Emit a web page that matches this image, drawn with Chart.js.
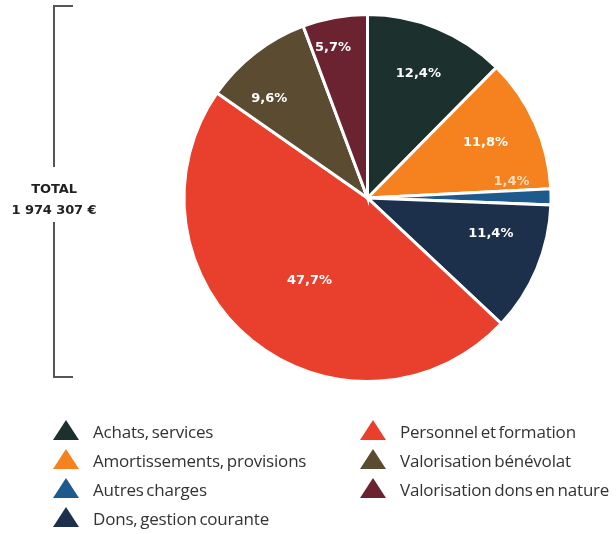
<!DOCTYPE html>
<html>
<head>
<meta charset="utf-8">
<script src="https://cdn.jsdelivr.net/npm/chart.js@4/dist/chart.umd.min.js"></script>
<style>
  html, body { margin: 0; padding: 0; background: #fff; }
  #wrap { position: relative; width: 616px; height: 534px; overflow: hidden; font-family: "Open Sans", Lato, sans-serif; }
  #c { position: absolute; left: 0; top: 0; }
  .br { position: absolute; border-left: 2px solid #555; }
  .brt { position: absolute; border-top: 2px solid #555; width: 20px; }
  #total { position: absolute; left: 0; width: 108px; top: 178px; text-align: center; font-family: "DejaVu Sans", sans-serif; font-weight: bold; font-size: 13px; line-height: 21px; color: #222; letter-spacing: -0.1px; }
  .leg { position: absolute; font-size: 17px; color: #333; line-height: 20px; white-space: nowrap; letter-spacing: -0.2px; word-spacing: -1.5px; }
  .tri { position: absolute; width: 0; height: 0; border-left: 13px solid transparent; border-right: 13px solid transparent; border-bottom-width: 20px; border-bottom-style: solid; }
</style>
</head>
<body>
<div id="wrap">
  <canvas id="c" width="616" height="534"></canvas>
  <div class="br" style="left:53px; top:5px; height:162px;"></div>
  <div class="br" style="left:53px; top:222px; height:156px;"></div>
  <div class="brt" style="left:53px; top:5px;"></div>
  <div class="brt" style="left:53px; top:376px;"></div>
  <div id="total"><div id="totalLabel"></div><div id="totalValue"></div></div>
  <div id="legend"></div>
</div>
<script>
// ---- data ----
const categories = [
  "Achats, services",
  "Amortissements, provisions",
  "Autres charges",
  "Dons, gestion courante",
  "Personnel et formation",
  "Valorisation bénévolat",
  "Valorisation dons en nature"
];
const shares = [12.4, 11.8, 1.4, 11.4, 47.7, 9.6, 5.7];
const shareLabels = ["12,4%", "11,8%", "1,4%", "11,4%", "47,7%", "9,6%", "5,7%"];
const totalLabel = "TOTAL";
const totalValue = "1 974 307 €";

// ---- styles ----
const colors = ["#1c302d", "#f5821e", "#1e5a8c", "#1c304b", "#e8402c", "#5b4b31", "#6c2331"];
const labelAngleShift = [0, -1, -6, -6.5, -4, -7, -2.7];   // degrees
const labelRadius = [0.73, 0.71, 0.79, 0.70, 0.55, 0.76, 0.84];
const labelClipTo = [null, null, 1, null, null, null, null];
const legendCols = [
  { x: 53, tx: 93, items: [0, 1, 2, 3] },
  { x: 360, tx: 400, items: [4, 5, 6] }
];
const legendRowY = [432, 461, 490, 519];

document.getElementById('totalLabel').textContent = totalLabel;
document.getElementById('totalValue').textContent = totalValue;

const legend = document.getElementById('legend');
legendCols.forEach(col => {
  col.items.forEach((idx, r) => {
    const y = legendRowY[r];
    const t = document.createElement('div');
    t.className = 'tri';
    t.style.left = col.x + 'px';
    t.style.top = (y - 12) + 'px';
    t.style.borderBottomColor = colors[idx];
    legend.appendChild(t);
    const l = document.createElement('div');
    l.className = 'leg';
    l.style.left = col.tx + 'px';
    l.style.top = (y - 10) + 'px';
    l.textContent = categories[idx];
    legend.appendChild(l);
  });
});

const labelPlugin = {
  id: 'sliceLabels',
  afterDatasetsDraw(chart) {
    const ctx = chart.ctx;
    const meta = chart.getDatasetMeta(0);
    ctx.save();
    ctx.font = 'bold 13px "DejaVu Sans", sans-serif';
    ctx.textAlign = 'center';
    ctx.textBaseline = 'middle';
    meta.data.forEach((arc, i) => {
      const p = arc.getProps(['x', 'y', 'startAngle', 'endAngle', 'outerRadius'], true);
      const mid = (p.startAngle + p.endAngle) / 2 + labelAngleShift[i] * Math.PI / 180;
      const r = p.outerRadius * labelRadius[i];
      const x = p.x + Math.cos(mid) * r;
      const y = p.y + Math.sin(mid) * r;
      ctx.save();
      if (labelClipTo[i] !== null) {
        const q = meta.data[labelClipTo[i]].getProps(['x', 'y', 'startAngle', 'endAngle', 'outerRadius'], true);
        ctx.beginPath();
        ctx.moveTo(q.x, q.y);
        ctx.arc(q.x, q.y, q.outerRadius - 2, q.startAngle, q.endAngle - 0.012);
        ctx.closePath();
        ctx.clip();
        ctx.fillStyle = 'rgba(255,235,215,0.85)';
      } else {
        ctx.fillStyle = '#ffffff';
      }
      ctx.fillText(shareLabels[i], x, y);
      ctx.restore();
    });
    ctx.restore();
  }
};

new Chart(document.getElementById('c'), {
  type: 'pie',
  data: {
    labels: categories,
    datasets: [{
      data: shares,
      backgroundColor: colors,
      borderColor: '#ffffff',
      borderWidth: 3,
      borderJoinStyle: 'miter'
    }]
  },
  options: {
    responsive: false,
    animation: false,
    rotation: 0,
    layout: { padding: { left: 182, top: 13, right: 63, bottom: 151 } },
    plugins: {
      legend: { display: false },
      tooltip: { enabled: false }
    }
  },
  plugins: [labelPlugin]
});
</script>
</body>
</html>
